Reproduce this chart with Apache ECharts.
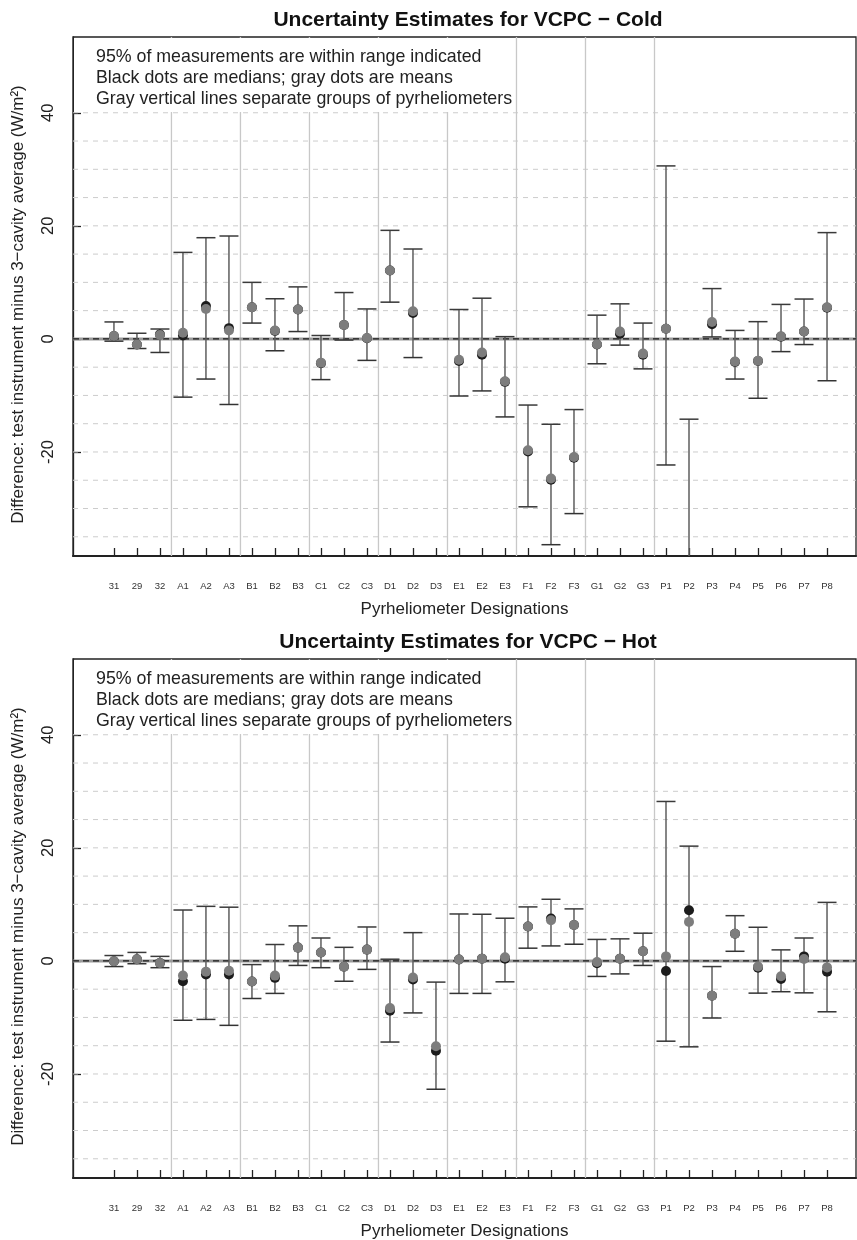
<!DOCTYPE html>
<html>
<head>
<meta charset="utf-8">
<script src="https://cdn.jsdelivr.net/npm/echarts@6/dist/echarts.min.js"></script>
<style>
html,body{margin:0;padding:0;background:#fff;}
#chart{width:857px;height:1240px;}
</style>
</head>
<body>
<div id="chart"></div>
<script>
// ---- data ----
const labels = ['31','29','32','A1','A2','A3','B1','B2','B3','C1','C2','C3','D1','D2','D3','E1','E2','E3','F1','F2','F3','G1','G2','G3','P1','P2','P3','P4','P5','P6','P7','P8'];

const coldLow    = [-0.4, -1.7, -2.4, -10.3, -7.1, -11.6, 2.8, -2.1, 1.3, -7.2, -0.2, -3.8, 6.5, -3.3, null, -10.1, -9.2, -13.8, -29.7, -36.4, -30.9, -4.4, -1.1, -5.3, -22.3, -55, 0.35, -7.1, -10.5, -2.25, -1.0, -7.4];
const coldHigh   = [3.0, 1.0, 1.75, 15.3, 17.9, 18.2, 10.0, 7.1, 9.2, 0.6, 8.2, 5.3, 19.2, 15.9, null, 5.2, 7.2, 0.4, -11.7, -15.1, -12.5, 4.2, 6.2, 2.8, 30.6, -14.2, 8.9, 1.5, 3.05, 6.1, 7.05, 18.8];
const coldMean   = [0.5, -1.0, 0.7, 1.1, 5.3, 1.5, 5.6, 1.5, 5.2, -4.2, 2.45, 0.15, 12.1, 4.9, null, -3.7, -2.4, -7.5, -19.7, -24.7, -20.9, -0.95, 1.3, -2.6, 1.8, -42, 3.0, -4.0, -3.85, 0.45, 1.3, 5.6];
const coldMedian = [0.5, -1.0, 0.8, 0.6, 5.8, 1.9, 5.6, 1.4, 5.2, -4.3, 2.45, 0.1, 12.1, 4.6, null, -3.9, -2.8, -7.6, -19.9, -24.9, -21.0, -1.0, 0.9, -2.8, 1.8, -42, 2.6, -4.1, -3.9, 0.4, 1.3, 5.5];

const hotLow    = [-1.0, -0.5, -1.2, -10.5, -10.35, -11.4, -6.65, -5.75, -0.8, -1.2, -3.6, -1.5, -14.35, -9.2, -22.7, -5.75, -5.75, -3.7, 2.25, 2.65, 2.95, -2.75, -2.3, -0.8, -14.2, -15.2, -10.1, 1.7, -5.7, -5.45, -5.65, -9.0];
const hotHigh   = [0.95, 1.5, 0.8, 9.0, 9.65, 9.5, -0.65, 2.9, 6.2, 4.05, 2.4, 6.0, 0.3, 5.0, -3.75, 8.3, 8.25, 7.55, 9.55, 10.9, 9.2, 3.8, 3.9, 4.9, 28.2, 20.3, -1.0, 8.0, 5.95, 1.95, 4.05, 10.35];
const hotMean   = [-0.05, 0.3, -0.35, -2.6, -1.9, -1.75, -3.65, -2.6, 2.35, 1.5, -1.05, 2.0, -8.35, -2.95, -15.1, 0.25, 0.4, 0.65, 6.1, 7.2, 6.35, -0.2, 0.4, 1.7, 0.8, 6.9, -6.15, 4.8, -1.0, -2.7, 0.35, -1.15];
const hotMedian = [-0.05, 0.3, -0.35, -3.6, -2.4, -2.4, -3.65, -3.0, 2.35, 1.5, -1.05, 2.0, -8.8, -3.3, -15.9, 0.25, 0.4, 0.4, 6.1, 7.5, 6.35, -0.4, 0.4, 1.7, -1.8, 8.95, -6.15, 4.8, -1.2, -3.2, 0.8, -1.9];

const yTickLabels = [-20, 0, 20, 40];
const gridLineValues = [-35, -30, -25, -20, -15, -10, -5, 5, 10, 15, 20, 25, 30, 35, 40];
const groupSeparators = [3.5, 6.5, 9.5, 12.5, 15.5, 18.5, 21.5, 24.5];

const titles = ['Uncertainty Estimates for VCPC \u2212 Cold', 'Uncertainty Estimates for VCPC \u2212 Hot'];
const noteLines = ['95% of measurements are within range indicated',
                   'Black dots are medians; gray dots are means',
                   'Gray vertical lines separate groups of pyrheliometers'];
const xTitle = 'Pyrheliometer Designations';
const yTitle = 'Difference: test instrument minus 3\u2212cavity average (W/m\u00B2)';

// ---- layout ----
const FONT = '"Liberation Sans", Arial, Helvetica, sans-serif';
const X_MIN = -0.78, X_MAX = 33.26, Y_MIN = -38.4, Y_MAX = 53.4;
const panels = [
  {top: 37, low: coldLow, high: coldHigh, mean: coldMean, median: coldMedian},
  {top: 659, low: hotLow, high: hotHigh, mean: hotMean, median: hotMedian}
];
const GL = 73, GW = 783, GH = 519;

const chart = echarts.init(document.getElementById('chart'), null, {renderer: 'canvas'});
const positions = labels.map((_, i) => i + 1);

const grids = [], xAxes = [], yAxes = [], series = [], graphics = [];

panels.forEach((p, k) => {
  grids.push({left: GL, top: p.top, width: GW, height: GH, show: true,
              borderColor: '#222', borderWidth: 1.3, backgroundColor: 'transparent'});
  xAxes.push({
    type: 'value', gridIndex: k, min: X_MIN, max: X_MAX,
    axisLine: {show: true, onZero: false, lineStyle: {color: '#222', width: 2}},
    axisTick: {show: true, inside: true, length: 8, customValues: positions, lineStyle: {color: '#222', width: 1.3}},
    axisLabel: {show: true, customValues: positions, margin: 25, fontSize: 9.5, color: '#333', fontFamily: FONT,
                formatter: v => labels[Math.round(v) - 1] || ''},
    splitLine: {show: false}
  });
  yAxes.push({
    type: 'value', gridIndex: k, min: Y_MIN, max: Y_MAX,
    axisLine: {show: true, onZero: false, lineStyle: {color: '#222', width: 1.3}},
    axisTick: {show: true, inside: true, length: 8, customValues: yTickLabels, lineStyle: {color: '#222', width: 1.3}},
    axisLabel: {show: true, customValues: yTickLabels, rotate: 90, margin: 16, fontSize: 16.5, color: '#222', fontFamily: FONT},
    splitLine: {show: false}
  });

  // horizontal dashed grid lines
  series.push({
    type: 'custom', xAxisIndex: k, yAxisIndex: k, z: 1, silent: true,
    data: gridLineValues.map(v => [v]),
    renderItem: (params, api) => {
      const cs = params.coordSys;
      const y = api.coord([X_MIN, api.value(0)])[1];
      return {type: 'line', shape: {x1: cs.x, y1: y, x2: cs.x + cs.width, y2: y},
              style: {stroke: '#cccccc', lineWidth: 1, lineDash: [5, 5]}};
    }
  });
  // group separators
  series.push({
    type: 'custom', xAxisIndex: k, yAxisIndex: k, z: 1, silent: true,
    data: groupSeparators.map(v => [v]),
    renderItem: (params, api) => {
      const cs = params.coordSys;
      const x = api.coord([api.value(0), 0])[0];
      return {type: 'line', shape: {x1: x, y1: cs.y, x2: x, y2: cs.y + cs.height},
              style: {stroke: '#c8c8c8', lineWidth: 1.3}};
    }
  });
  // zero line
  series.push({
    type: 'custom', xAxisIndex: k, yAxisIndex: k, z: 2, silent: true,
    data: [[0]],
    renderItem: (params, api) => {
      const cs = params.coordSys;
      const y = api.coord([X_MIN, api.value(0)])[1];
      return {type: 'group', children: [
        {type: 'line', shape: {x1: cs.x, y1: y, x2: cs.x + cs.width, y2: y}, style: {stroke: '#9a9a9a', lineWidth: 3}},
        {type: 'line', shape: {x1: cs.x, y1: y, x2: cs.x + cs.width, y2: y}, style: {stroke: '#1a1a1a', lineWidth: 1.4, lineDash: [6, 4]}}
      ]};
    }
  });
  // error bars
  const barData = [];
  labels.forEach((_, i) => { if (p.low[i] != null && p.high[i] != null) barData.push([i + 1, p.low[i], p.high[i]]); });
  series.push({
    type: 'custom', xAxisIndex: k, yAxisIndex: k, z: 3, silent: true, clip: true,
    data: barData,
    renderItem: (params, api) => {
      const cs = params.coordSys;
      const x = api.value(0);
      const a = api.coord([x, api.value(1)]);
      const b = api.coord([x, api.value(2)]);
      const hw = 9.5;
      return {type: 'group',
        clipPath: {type: 'rect', shape: {x: cs.x, y: cs.y, width: cs.width, height: cs.height}},
        children: [
          {type: 'line', shape: {x1: a[0], y1: a[1], x2: b[0], y2: b[1]}, style: {stroke: '#5e5e5e', lineWidth: 1.5}},
          {type: 'line', shape: {x1: a[0] - hw, y1: a[1], x2: a[0] + hw, y2: a[1]}, style: {stroke: '#333', lineWidth: 1.5}},
          {type: 'line', shape: {x1: b[0] - hw, y1: b[1], x2: b[0] + hw, y2: b[1]}, style: {stroke: '#3a3a3a', lineWidth: 1.5}}
        ]};
    }
  });
  // medians (black) and means (gray)
  series.push({
    type: 'scatter', xAxisIndex: k, yAxisIndex: k, z: 4, silent: true, clip: true,
    symbol: 'circle', symbolSize: 10,
    itemStyle: {color: '#1c1c1c', opacity: 1},
    data: labels.map((_, i) => p.median[i] == null ? null : [i + 1, p.median[i]]).filter(d => d)
  });
  series.push({
    type: 'scatter', xAxisIndex: k, yAxisIndex: k, z: 5, silent: true, clip: true,
    symbol: 'circle', symbolSize: 10,
    itemStyle: {color: '#7d7d7d', opacity: 1},
    data: labels.map((_, i) => p.mean[i] == null ? null : [i + 1, p.mean[i]]).filter(d => d)
  });

  // title
  graphics.push({type: 'text', z: 20, x: 468, y: p.top - 17,
    style: {text: titles[k], font: 'bold 21px ' + FONT, fill: '#111', textAlign: 'center', textVerticalAlign: 'middle'}});
  // legend note with white background
  graphics.push({type: 'rect', z: 10, shape: {x: GL + 1, y: p.top + 1, width: 440, height: 74}, style: {fill: '#fff'}});
  noteLines.forEach((t, j) => {
    graphics.push({type: 'text', z: 20, x: 96, y: p.top + 20.5 + j * 20.7,
      style: {text: t, font: '17.8px ' + FONT, fill: '#222', textAlign: 'left', textVerticalAlign: 'middle'}});
  });
  // axis titles
  graphics.push({type: 'text', z: 20, x: GL + GW / 2, y: p.top + GH + 53,
    style: {text: xTitle, font: '17px ' + FONT, fill: '#222', textAlign: 'center', textVerticalAlign: 'middle'}});
  graphics.push({type: 'text', z: 20, x: 18, y: p.top + GH / 2 + 8, rotation: Math.PI / 2,
    style: {text: yTitle, font: '17px ' + FONT, fill: '#222', textAlign: 'center', textVerticalAlign: 'middle'}});
});

chart.setOption({
  animation: false,
  backgroundColor: '#fff',
  grid: grids, xAxis: xAxes, yAxis: yAxes, series: series,
  graphic: {elements: graphics}
});
</script>
</body>
</html>
